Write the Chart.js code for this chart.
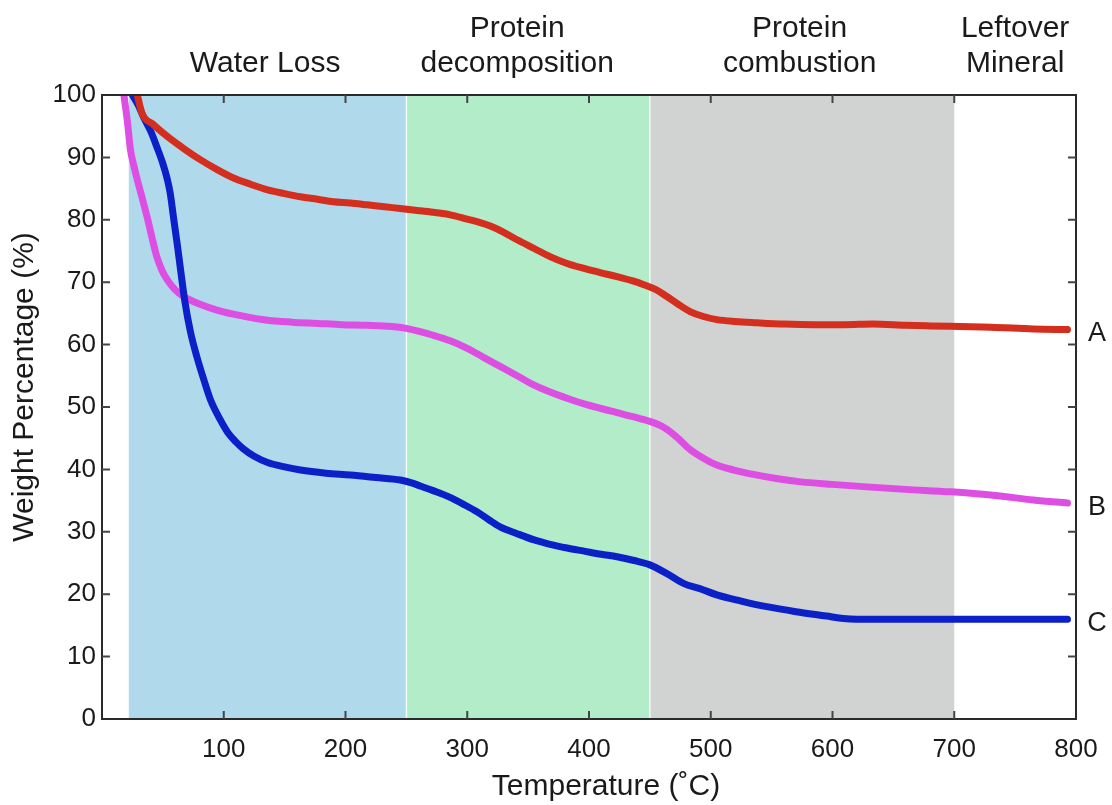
<!DOCTYPE html>
<html>
<head>
  <title>TGA curves</title>
  <script src="https://cdn.jsdelivr.net/npm/chart.js"></script>
  <style>
    body { margin: 0; background: #fff; }
    #chart { display: block; }
  </style>
</head>
<body>
  <canvas id="chart" width="1112" height="805"></canvas>

  <script>
    // Sample A (red)
    const tempA = [29, 33, 42, 54, 68, 81, 95, 108, 122, 136, 150, 163, 177, 190, 204, 218, 232, 245, 259, 272, 286, 300, 310, 319, 330, 341, 355, 368, 382, 396, 410, 423, 436, 445, 455, 464, 473, 483, 494, 505, 520, 538, 560, 585, 610, 633, 660, 680, 705, 730, 765, 793];
    const weightA = [100, 97, 95.3, 93.3, 91.3, 89.6, 88.0, 86.7, 85.7, 84.8, 84.2, 83.7, 83.3, 82.9, 82.7, 82.4, 82.1, 81.8, 81.5, 81.2, 80.8, 80.1, 79.6, 79.0, 78.0, 76.8, 75.4, 74.1, 73.0, 72.2, 71.5, 70.9, 70.2, 69.6, 68.8, 67.7, 66.5, 65.3, 64.5, 64.0, 63.7, 63.5, 63.3, 63.2, 63.2, 63.3, 63.1, 63.0, 62.9, 62.8, 62.5, 62.4];

    // Sample B (magenta)
    const tempB = [18, 21, 23.4, 26, 29, 33, 37, 41, 45, 49, 53.5, 60, 67, 80, 95, 115, 136, 156, 177, 197, 218, 238, 250, 259, 272, 286, 300, 313, 327, 341, 355, 368, 382, 396, 409, 423, 437, 450, 458, 464, 473, 483, 494, 505, 519, 535, 555, 574, 600, 628, 660, 697, 730, 765, 793];
    const weightB = [100, 95.5, 91.2, 88.8, 86.4, 83.5, 80.5, 77.2, 74.1, 72.0, 70.4, 68.8, 67.7, 66.5, 65.5, 64.6, 63.9, 63.6, 63.4, 63.2, 63.1, 62.9, 62.6, 62.2, 61.5, 60.6, 59.4, 58.0, 56.5, 55.0, 53.5, 52.4, 51.4, 50.5, 49.8, 49.1, 48.4, 47.7, 47.1, 46.4, 45.0, 43.2, 41.8, 40.7, 39.9, 39.2, 38.5, 38.0, 37.6, 37.2, 36.8, 36.4, 35.9, 35.1, 34.6];

    // Sample C (blue)
    const tempC = [25, 30, 34, 40, 45, 50, 53.5, 56, 59, 62, 64.4, 68, 72.7, 78, 83.6, 89, 97, 103, 110, 116, 125, 136, 150, 163, 184, 204, 225, 245, 255, 262, 272, 285, 298, 308, 318, 327, 341, 355, 368, 382, 396, 410, 423, 437, 450, 464, 478, 491, 505, 525, 546, 570, 595, 609, 620, 650, 700, 750, 793];
    const weightC = [100, 98.3, 96.5, 94.2, 91.7, 89.0, 86.6, 84.3, 80.0, 75.8, 72.2, 67.0, 62.0, 58.0, 54.4, 51.2, 48.0, 46.0, 44.4, 43.3, 42.1, 41.1, 40.4, 39.9, 39.4, 39.1, 38.7, 38.3, 37.8, 37.3, 36.6, 35.6, 34.3, 33.2, 31.9, 30.8, 29.7, 28.7, 28.0, 27.4, 26.9, 26.4, 26.0, 25.4, 24.7, 23.3, 21.7, 20.9, 19.9, 18.9, 18.0, 17.2, 16.5, 16.1, 16.0, 16.0, 16.0, 16.0, 16.0];

    const seriesNames = ['A', 'B', 'C'];

    // temperature stages shaded behind the curves
    const stageStart = [22, 250, 450, 700];
    const stageEnd = [250, 450, 700, 800];
    const stageColors = ['#b1d9ec', '#b2ecc9', '#d1d2d2', 'rgba(0,0,0,0)'];
    const stageLabels = [['Water Loss'], ['Protein', 'decomposition'], ['Protein', 'combustion'], ['Leftover', 'Mineral']];
    const stageLabelAt = [134, 341, 573, 750];

    const xTicks = [100, 200, 300, 400, 500, 600, 700, 800];
    const yTicks = [0, 10, 20, 30, 40, 50, 60, 70, 80, 90, 100];

    const FONT = '"Liberation Sans", Arial, Helvetica, sans-serif';

    function toPoints(xs, ys) {
      return xs.map((x, i) => ({ x: x, y: ys[i] }));
    }

    // Shaded stages, their labels, the box frame, inward ticks, axis titles and A/B/C tags
    const decorPlugin = {
      id: 'decor',
      beforeDatasetsDraw(chart) {
        const { ctx, chartArea, scales } = chart;
        ctx.save();
        for (let i = 0; i < stageStart.length; i++) {
          const x0 = scales.x.getPixelForValue(stageStart[i]);
          const x1 = scales.x.getPixelForValue(stageEnd[i]);
          ctx.fillStyle = stageColors[i];
          ctx.fillRect(x0, chartArea.top, x1 - x0, chartArea.bottom - chartArea.top);
        }
        // thin light seams between the coloured stages
        ctx.strokeStyle = 'rgba(255,255,255,0.8)';
        ctx.lineWidth = 1.5;
        [250, 450].forEach(v => {
          const x = scales.x.getPixelForValue(v);
          ctx.beginPath();
          ctx.moveTo(x, chartArea.top);
          ctx.lineTo(x, chartArea.bottom);
          ctx.stroke();
        });
        ctx.restore();
      },
      afterDatasetsDraw(chart) {
        const { ctx, chartArea, scales } = chart;
        const { left, right, top, bottom } = chartArea;
        ctx.save();
        ctx.strokeStyle = '#2a2a2a';
        ctx.lineWidth = 2;
        ctx.strokeRect(left, top, right - left, bottom - top);

        const len = 8;
        ctx.strokeStyle = '#444';
        ctx.beginPath();
        xTicks.forEach(v => {
          if (v >= 800) return;
          const x = scales.x.getPixelForValue(v);
          ctx.moveTo(x, bottom); ctx.lineTo(x, bottom - len);
          ctx.moveTo(x, top); ctx.lineTo(x, top + len);
        });
        yTicks.forEach(v => {
          if (v <= 0 || v >= 100) return;
          const y = scales.y.getPixelForValue(v);
          ctx.moveTo(left, y); ctx.lineTo(left + len, y);
          ctx.moveTo(right, y); ctx.lineTo(right - len, y);
        });
        ctx.stroke();

        ctx.fillStyle = '#1a1a1a';
        ctx.textAlign = 'center';
        ctx.textBaseline = 'middle';

        // series tags at the right edge
        ctx.font = '27px ' + FONT;
        chart.data.datasets.forEach((ds, i) => {
          const last = ds.data[ds.data.length - 1];
          ctx.fillText(seriesNames[i], right + 21, scales.y.getPixelForValue(last.y) + 4);
        });

        // stage labels above the plot
        ctx.font = '30px ' + FONT;
        stageLabels.forEach((lines, i) => {
          const cx = scales.x.getPixelForValue(stageLabelAt[i]);
          const y0 = lines.length === 1 ? 64 : 29;
          lines.forEach((t, j) => ctx.fillText(t, cx, y0 + j * 35));
        });

        // axis titles
        ctx.font = '30px ' + FONT;
        ctx.fillText('Temperature (˚C)', 606, 787);
        ctx.translate(25, 387);
        ctx.rotate(-Math.PI / 2);
        ctx.fillText('Weight Percentage (%)', 0, 0);
        ctx.restore();
      }
    };

    const ctx = document.getElementById('chart').getContext('2d');
    new Chart(ctx, {
      type: 'line',
      data: {
        datasets: [
          { label: 'A', data: toPoints(tempA, weightA), borderColor: '#d42f1e', order: 1 },
          { label: 'B', data: toPoints(tempB, weightB), borderColor: '#dd4fe2', order: 3 },
          { label: 'C', data: toPoints(tempC, weightC), borderColor: '#0c20c8', order: 2 }
        ]
      },
      options: {
        responsive: false,
        devicePixelRatio: 1,
        animation: false,
        layout: { padding: { top: 95, right: 36, left: 0, bottom: 0 } },
        elements: {
          line: { borderWidth: 7, cubicInterpolationMode: 'monotone', borderCapStyle: 'round', borderJoinStyle: 'round' },
          point: { radius: 0 }
        },
        plugins: {
          legend: { display: false },
          tooltip: { enabled: false }
        },
        scales: {
          x: {
            type: 'linear',
            min: 0,
            max: 800,
            grid: { display: false },
            border: { display: false },
            afterFit: s => { s.height = 86; },
            afterBuildTicks: s => { s.ticks = [0].concat(xTicks).map(v => ({ value: v })); },
            ticks: {
              color: '#1a1a1a',
              padding: 7,
              maxRotation: 0,
              font: { family: FONT, size: 26 },
              callback: v => (v === 0 ? '' : v)
            }
          },
          y: {
            min: 0,
            max: 100,
            grid: { display: false },
            border: { display: false },
            afterFit: s => { s.width = 102; },
            afterBuildTicks: s => { s.ticks = yTicks.map(v => ({ value: v })); },
            ticks: {
              color: '#1a1a1a',
              padding: -2,
              font: { family: FONT, size: 26 }
            }
          }
        }
      },
      plugins: [decorPlugin]
    });
  </script>
</body>
</html>
